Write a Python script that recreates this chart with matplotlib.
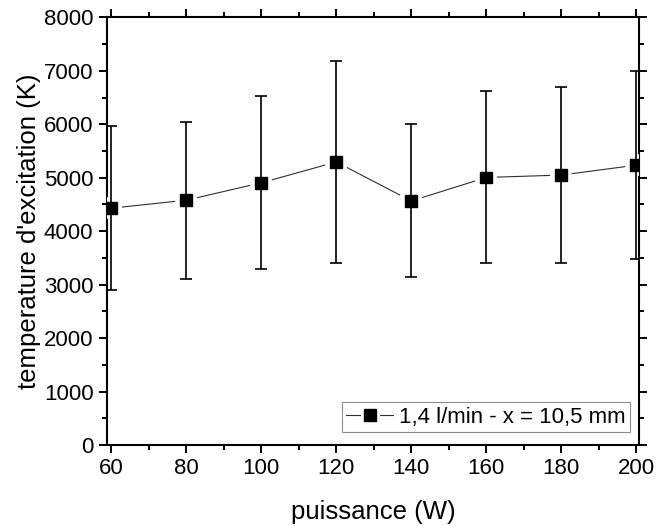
import matplotlib
matplotlib.use("Agg")
import matplotlib.pyplot as plt
import matplotlib.patheffects as pe
from matplotlib.lines import Line2D
from matplotlib.ticker import MultipleLocator

# Data
puissance = [60, 80, 100, 120, 140, 160, 180, 200]
temperature = [4430, 4580, 4905, 5295, 4565, 5005, 5050, 5235]
err_upper = [5960, 6045, 6520, 7190, 6000, 6620, 6690, 7000]
err_lower = [2895, 3110, 3290, 3405, 3140, 3400, 3405, 3475]
series_label = "1,4 l/min - x = 10,5 mm"
xlabel = "puissance (W)"
ylabel = "temperature d'excitation (K)"

plt.rcParams['font.family'] = ['Liberation Sans', 'DejaVu Sans']

fig = plt.figure(figsize=(6.57, 5.26), dpi=100)
ax = fig.add_axes([0.1633, 0.154, 0.973 - 0.1633, 0.967 - 0.154])

yerr = [[t - l for t, l in zip(temperature, err_lower)],
        [u - t for t, u in zip(temperature, err_upper)]]

halo = [pe.withStroke(linewidth=7, foreground='white')]

# connecting line
ax.plot(puissance, temperature, color='#303030', lw=0.8, zorder=2)
# markers with white halo (creates gaps in connecting line)
ax.plot(puissance, temperature, ls='none', marker='s', ms=8.5, color='black',
        path_effects=halo, zorder=3)
# error bars on top
ax.errorbar(puissance, temperature, yerr=yerr, fmt='none', ecolor='black',
            elinewidth=1.2, capsize=4, capthick=1.2, zorder=4)

ax.set_xlim(58.93, 200.8)
ax.set_ylim(0, 8000)
ax.xaxis.set_major_locator(MultipleLocator(20))
ax.xaxis.set_minor_locator(MultipleLocator(10))
ax.yaxis.set_major_locator(MultipleLocator(1000))
ax.yaxis.set_minor_locator(MultipleLocator(500))

ax.tick_params(which='both', direction='out', top=True, right=True,
               labeltop=False, labelright=False, width=1.4, labelsize=16)
ax.tick_params(which='major', length=6)
ax.tick_params(which='minor', length=3.5)
ax.tick_params(axis='y', pad=4)
for s in ax.spines.values():
    s.set_linewidth(1.5)

ax.set_xlabel(xlabel, fontsize=18.5, labelpad=15)
ax.set_ylabel(ylabel, fontsize=18.5, labelpad=2)

handle = Line2D([], [], color='#303030', lw=0.8, marker='s', ms=8.5,
                markerfacecolor='black', markeredgecolor='black',
                path_effects=[pe.withStroke(linewidth=5, foreground='white')])
leg = ax.legend([handle], [series_label], loc='lower right',
                bbox_to_anchor=(0.982, 0.030), borderaxespad=0,
                fontsize=16, handlelength=2.1, handletextpad=0.25,
                borderpad=0.2, fancybox=False, framealpha=1,
                edgecolor='0.55')
leg.get_frame().set_linewidth(0.8)

fig.savefig("out.png", dpi=100)
